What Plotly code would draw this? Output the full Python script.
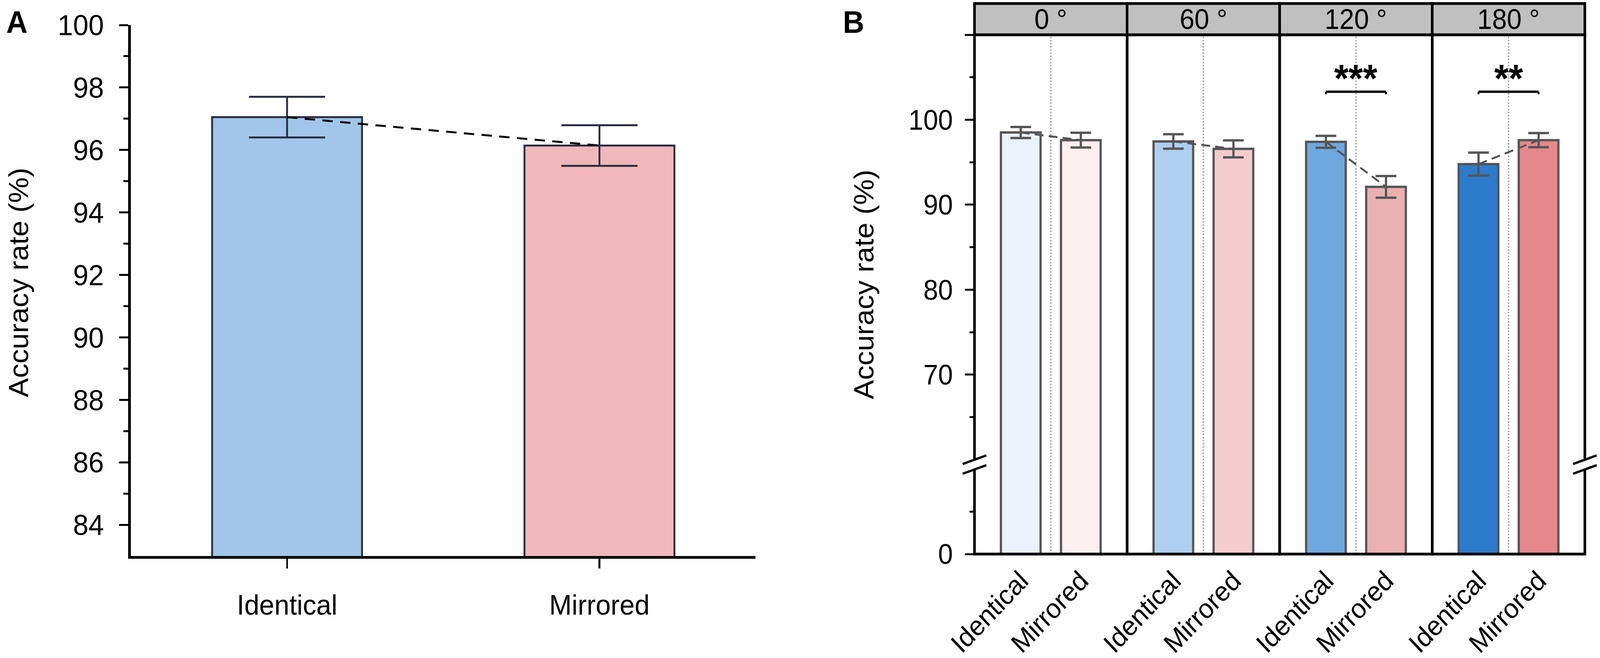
import plotly.graph_objects as go

W, H = 4328, 1684

# panel A: overall accuracy
conditions = ["Identical", "Mirrored"]
overall_acc = [97.05, 96.14]
overall_err = [0.65, 0.65]
overall_colors = ["#A2C5EA", "#F0B8BA"]

# panel B: accuracy by rotation angle
angles = ["0 °", "60 °", "120 °", "180 °"]
identical_acc = [98.5, 97.45, 97.4, 94.78]
identical_err = [0.65, 0.85, 0.7, 1.35]
mirrored_acc = [97.6, 96.57, 92.1, 97.6]
mirrored_err = [0.87, 1.0, 1.28, 0.83]
significance = ["", "", "***", "**"]
identical_colors = ["#EAF2FB", "#AECFEF", "#6FA8DE", "#2D7BCB"]
mirrored_colors = ["#FDF0F1", "#F4CCCE", "#EBB0B1", "#E5888C"]

FONT = "Liberation Sans, Arial, Helvetica, sans-serif"
DARK = "#2A2C40"
GREY = "#555555"


def px_x(v):
    return v / W


def px_y(v):
    return 1 - v / H


fig = go.Figure()

# ---- panel A
fig.add_trace(go.Bar(
    x=conditions, y=overall_acc, width=0.48,
    marker=dict(color=overall_colors, line=dict(color=DARK, width=5)),
    error_y=dict(type="data", array=overall_err, color=DARK, thickness=5, width=103),
    xaxis="x", yaxis="y",
))
fig.add_trace(go.Scatter(
    x=conditions, y=overall_acc, mode="lines",
    line=dict(color="black", width=5, dash="28px,20px"),
    xaxis="x", yaxis="y",
))

# ---- panel B (broken y axis: upper part y2, lower part y3)
for k in range(len(angles)):
    xa = "x%d" % (k + 2)
    vals = [identical_acc[k], mirrored_acc[k]]
    errs = [identical_err[k], mirrored_err[k]]
    cols = [identical_colors[k], mirrored_colors[k]]
    for ya in ["y3", "y2"]:
        bar = dict(
            x=conditions, y=vals, width=0.66,
            marker=dict(color=cols, line=dict(color=GREY, width=6)),
            xaxis=xa, yaxis=ya,
        )
        if ya == "y2":
            bar["error_y"] = dict(type="data", array=errs, color=GREY, thickness=6, width=28)
        fig.add_trace(go.Bar(**bar))
    fig.add_trace(go.Scatter(
        x=conditions, y=vals, mode="lines",
        line=dict(color=GREY, width=5, dash="24px,14px"),
        xaxis=xa, yaxis="y2",
    ))

layout = dict(
    template="none", width=W, height=H,
    margin=dict(l=0, r=0, t=0, b=0, pad=0),
    paper_bgcolor="white", plot_bgcolor="rgba(0,0,0,0)",
    showlegend=False, font=dict(family=FONT, color="black"),
    xaxis=dict(
        domain=[px_x(354), px_x(2044)], range=[-0.5, 1.5], type="category",
        anchor="y", showline=True, linecolor="black", linewidth=7,
        ticks="outside", ticklen=25, tickwidth=5, tickcolor="black",
        tickfont=dict(size=73), ticklabelstandoff=30, automargin=False,
        showgrid=False, zeroline=False,
    ),
    yaxis=dict(
        domain=[px_y(1423), px_y(64)], range=[83, 100],
        tickvals=list(range(84, 101, 2)), anchor="x",
        showline=True, linecolor="black", linewidth=7,
        ticks="outside", ticklen=25, tickwidth=5, tickcolor="black",
        minor=dict(tickvals=list(range(85, 100, 2)), ticks="outside",
                   ticklen=13, tickwidth=5, tickcolor="black"),
        tickfont=dict(size=75), ticklabelstandoff=26, automargin=False,
        showgrid=False, zeroline=False,
    ),
    yaxis2=dict(
        domain=[px_y(1185), px_y(89)], range=[59.6, 110], anchor="x2",
        tickvals=[70, 80, 90, 100, 110], ticktext=["70", "80", "90", "100", ""],
        ticks="outside", ticklen=25, tickwidth=5, tickcolor="black",
        minor=dict(tickvals=[65, 75, 85, 95, 105], ticks="outside",
                   ticklen=12, tickwidth=5, tickcolor="black"),
        tickfont=dict(size=72), ticklabelstandoff=18, automargin=False,
        showline=False, showgrid=False, zeroline=False,
    ),
    yaxis3=dict(
        domain=[px_y(1418), px_y(1185)], range=[0, 10.7], anchor="x2",
        tickvals=[0], ticks="outside", ticklen=25, tickwidth=5, tickcolor="black",
        minor=dict(tickvals=[5], ticks="outside", ticklen=12, tickwidth=5,
                   tickcolor="black"),
        tickfont=dict(size=72), ticklabelstandoff=18, automargin=False,
        showline=False, showgrid=False, zeroline=False,
    ),
)

b_left, facet_w = 2636, 412.75
shapes = []
annotations = []
for k in range(len(angles)):
    x0 = b_left + k * facet_w
    layout["xaxis%d" % (k + 2)] = dict(
        domain=[px_x(x0), px_x(x0 + facet_w)], range=[-0.77, 1.77],
        type="category", anchor="y3", showline=False, ticks="",
        tickangle=-45, tickfont=dict(size=70), ticklabelstandoff=12,
        automargin=False, showgrid=False, zeroline=False,
    )
    dom = "x%d domain" % (k + 2)
    xa = "x%d" % (k + 2)
    # dotted divider between the two conditions
    shapes.append(dict(type="line", xref=xa, yref="paper", x0=0.5, x1=0.5,
                       y0=px_y(1418), y1=px_y(89), layer="below",
                       line=dict(color="#AAAAAA", width=4, dash="dot")))
    # facet frame and strip
    shapes.append(dict(type="rect", xref=dom, yref="paper", x0=0, x1=1,
                       y0=px_y(1418), y1=px_y(89),
                       line=dict(color="black", width=7)))
    shapes.append(dict(type="rect", xref=dom, yref="paper", x0=0, x1=1,
                       y0=px_y(89), y1=px_y(9), fillcolor="#C0C0C0",
                       line=dict(color="black", width=7)))
    annotations.append(dict(text=angles[k], xref=dom, yref="paper",
                            x=0.5, y=px_y(49), showarrow=False,
                            font=dict(size=72), xanchor="center", yanchor="middle"))
    if significance[k]:
        level = 103.3
        shapes.append(dict(type="line", xref=xa, yref="y2", x0=0, x1=1,
                           y0=level, y1=level, line=dict(color="black", width=6)))
        for xe in [0, 1]:
            shapes.append(dict(type="line", xref=xa, yref="y2", x0=xe, x1=xe,
                               y0=level - 0.3, y1=level,
                               line=dict(color="black", width=5)))
        annotations.append(dict(text="<b>%s</b>" % significance[k], xref=xa, yref="y2",
                                x=0.5, y=104.9, showarrow=False,
                                font=dict(size=100), xanchor="center", yanchor="middle"))


# axis break marks on both sides of panel B
def break_mark(cx, cy):
    dx, dy, sep = 32, 11, 12.5
    pts = [(cx - dx, cy - sep + dy), (cx + dx, cy - sep - dy),
           (cx + dx, cy + sep - dy), (cx - dx, cy + sep + dy)]
    path = "M " + " L ".join("%f,%f" % (px_x(a), px_y(b)) for a, b in pts) + " Z"
    out = [dict(type="path", xref="paper", yref="paper", path=path,
                fillcolor="white", line=dict(width=0))]
    for s in [-sep, sep]:
        out.append(dict(type="line", xref="paper", yref="paper",
                        x0=px_x(cx - dx), y0=px_y(cy + s + dy),
                        x1=px_x(cx + dx), y1=px_y(cy + s - dy),
                        line=dict(color="black", width=6)))
    return out


shapes += break_mark(b_left, 1189)
shapes += break_mark(b_left + 4 * facet_w, 1189)

# axis titles and panel letters
annotations.append(dict(text="Accuracy rate (%)", xref="paper", yref="paper",
                        x=px_x(50), y=px_y(723), textangle=-90, showarrow=False,
                        font=dict(size=74), xanchor="center", yanchor="middle"))
annotations.append(dict(text="Accuracy rate (%)", xref="paper", yref="paper",
                        x=px_x(2337), y=px_y(728), textangle=-90, showarrow=False,
                        font=dict(size=74), xanchor="center", yanchor="middle"))
annotations.append(dict(text="<b>A</b>", xref="paper", yref="paper",
                        x=px_x(46), y=px_y(56), showarrow=False,
                        font=dict(size=80), xanchor="center", yanchor="middle"))
annotations.append(dict(text="<b>B</b>", xref="paper", yref="paper",
                        x=px_x(2309), y=px_y(56), showarrow=False,
                        font=dict(size=80), xanchor="center", yanchor="middle"))

layout["shapes"] = shapes
layout["annotations"] = annotations
fig.update_layout(**layout)

# lay the figure out at 4328x1684 and scale it to whatever the window really is
fit_js = """
var gd = document.getElementById('{plot_id}');
document.documentElement.style.margin = '0';
document.body.style.margin = '0';
document.body.style.overflow = 'hidden';
function fitFigure() {
    var sx = window.innerWidth / %d, sy = window.innerHeight / %d;
    gd.style.transformOrigin = '0 0';
    gd.style.transform = 'scale(' + sx + ',' + sy + ')';
}
fitFigure();
window.addEventListener('resize', fitFigure);
""" % (W, H)

fig.write_html("out.html", config={"displayModeBar": False}, post_script=fit_js)
